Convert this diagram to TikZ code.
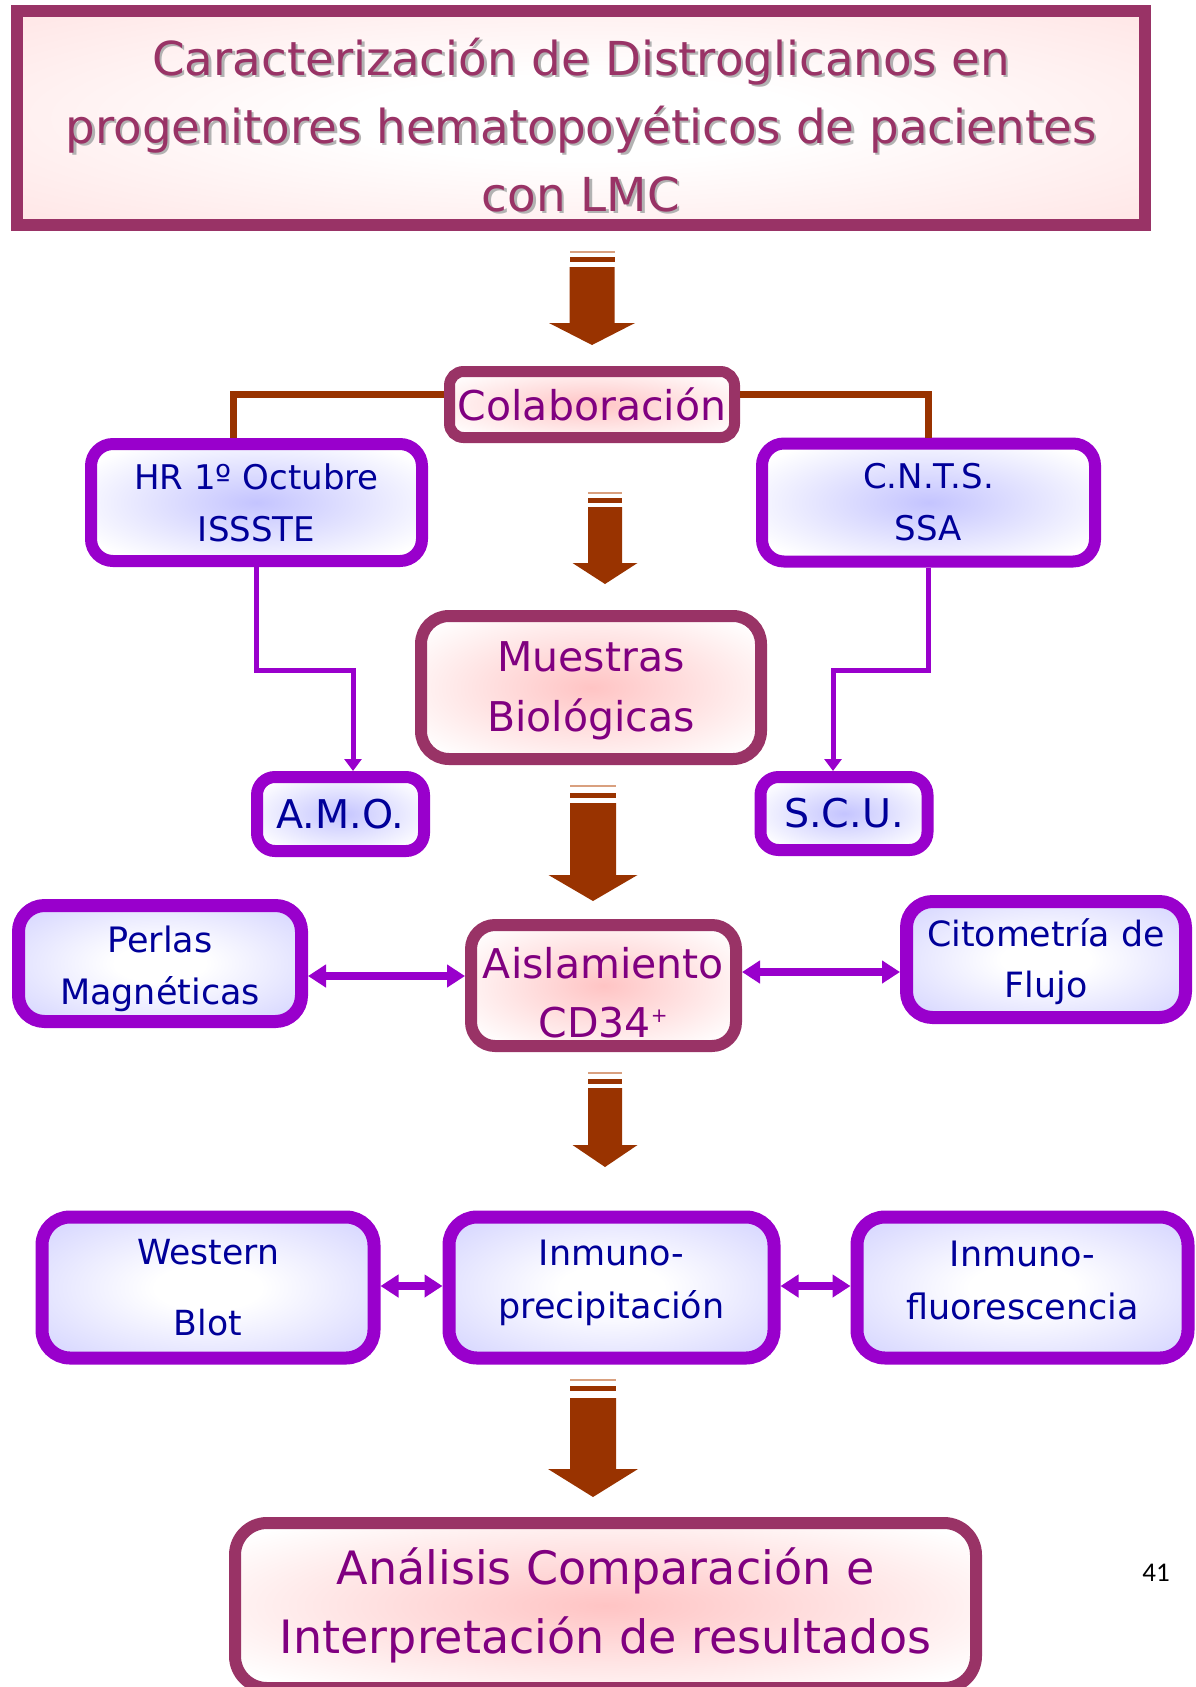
\documentclass[tikz,border=0pt]{standalone}
\usepackage{fontspec}
\setmainfont{DejaVu Sans}
\newfontfamily\carlitofont{Carlito}
\usetikzlibrary{arrows.meta,calc}
\definecolor{plum}{HTML}{993366}
\definecolor{vio}{HTML}{9900CC}
\definecolor{brn}{HTML}{993300}
\definecolor{brnlight}{HTML}{D9A07F}
\definecolor{txtpurple}{HTML}{800080}
\definecolor{txtnavy}{HTML}{000099}
\definecolor{pinkc}{HTML}{FFC4C4}
\definecolor{titlepink}{HTML}{FFDCDC}
\definecolor{bluec}{HTML}{C4C4FF}
\definecolor{bluee}{HTML}{C8C8FF}
\pgfdeclareradialshading{pinkglow}{\pgfpoint{0bp}{0bp}}{color(0bp)=(pinkc); color(32bp)=(white); color(50bp)=(white)}
\pgfdeclareradialshading{blueglow}{\pgfpoint{0bp}{0bp}}{color(0bp)=(bluec); color(30bp)=(white); color(50bp)=(white)}
\pgfdeclareradialshading{blueedge}{\pgfpoint{0bp}{0bp}}{color(0bp)=(white); color(8bp)=(white); color(42bp)=(bluee); color(50bp)=(bluee)}
\pgfdeclareradialshading{titleedge}{\pgfpoint{0bp}{0bp}}{color(0bp)=(white); color(10bp)=(white); color(45bp)=(titlepink); color(50bp)=(titlepink)}
\newcommand\blockarrow[8]{%
  \fill[brnlight] (#1-#7,#2-1) rectangle (#1+#7,#2+1);
  \fill[brn] (#1-#7,#3-2.5) rectangle (#1+#7,#3+2.5);
  \fill[brn] (#1-#7,#4) -- (#1+#7,#4) -- (#1+#7,#5) -- (#1+#8,#5) -- (#1,#6) -- (#1-#8,#5) -- (#1-#7,#5) -- cycle;}
\tikzset{
  plumbox/.style={draw=plum, line width=6pt, shading=pinkglow, text=txtpurple, rounded corners=12pt, inner sep=0pt, align=center},
  viobox/.style={draw=vio, line width=6pt, shading=blueglow, text=txtnavy, rounded corners=11pt, inner sep=0pt, align=center},
  vioedge/.style={viobox, line width=6.5pt, shading=blueedge, rounded corners=13pt},
  titlefont/.style={font=\fontsize{23.4}{34}\selectfont, align=center},
  fmid/.style={font=\fontsize{20.5}{30}\selectfont},
  brownline/.style={draw=brn, line width=3.5pt},
  pline/.style={draw=vio, line width=2.5pt, -{Triangle[length=6pt,width=8.5pt]}},
  darrow/.style={draw=vio, line width=4pt, {Triangle[length=9pt,width=11pt]}-{Triangle[length=9pt,width=11pt]}}
}
\begin{document}
\begin{tikzpicture}[x=0.5pt,y=-0.5pt]
\useasboundingbox (0,0) rectangle (1195,1687);
% title
\node[draw=plum, line width=6pt, shading=titleedge, minimum width=564pt, minimum height=107pt, inner sep=0pt] (title) at (581,118) {};
\node[titlefont, text=black!30] (titleshadow) at (583.5,127.5) {Caracterización de Distroglicanos en\\progenitores hematopoyéticos de pacientes\\con LMC};
\node[titlefont, text=plum] (titletext) at (581,125) {Caracterización de Distroglicanos en\\progenitores hematopoyéticos de pacientes\\con LMC};
% boxes
\node[plumbox, fmid, line width=5.5pt, rounded corners=7pt, minimum width=142.5pt, minimum height=33pt] (colab) at (592,404.5) {Colaboración};
\node[viobox, minimum width=165.5pt, minimum height=58.5pt, font=\fontsize{17}{26}\selectfont] (hr) at (256.5,502.5) {HR 1º Octubre\\ISSSTE};
\node[viobox, minimum width=166.5pt, minimum height=59pt, font=\fontsize{17}{26}\selectfont] (cnts) at (928.5,502.5) {C.N.T.S.\\SSA};
\node[plumbox, font=\fontsize{20.5}{30}\selectfont, rounded corners=14pt, minimum width=170pt, minimum height=71.5pt] (muestras) at (591,687.5) {\rule{0pt}{18.5pt}Muestras\\Biológicas};
\node[viobox, font=\fontsize{19.8}{24}\selectfont, rounded corners=9pt, minimum width=83.5pt, minimum height=37pt] (amo) at (340.5,814) {A.M.O.};
\node[viobox, font=\fontsize{19.8}{24}\selectfont, rounded corners=9pt, minimum width=83.5pt, minimum height=36.5pt] (scu) at (844,813.5) {S.C.U.};
\node[vioedge, font=\fontsize{17.5}{26}\selectfont, minimum width=141.5pt, minimum height=58pt] (perlas) at (160,963.5) {\rule{0pt}{18.3pt}Perlas\\Magnéticas};
\node[plumbox, font=\fontsize{20.5}{29.5}\selectfont, minimum width=132.5pt, minimum height=60.5pt] (aisl) at (603.5,985.5) {\rule{0pt}{23pt}Aislamiento\\CD34\textsuperscript{\fontsize{10}{10}\selectfont +}};
\node[vioedge, font=\fontsize{17.4}{25.5}\selectfont, minimum width=139.5pt, minimum height=58pt] (cito) at (1046,959.5) {\rule{0pt}{16.5pt}Citometría de\\Flujo};
\node[vioedge, font=\fontsize{17.3}{35.5}\selectfont, rounded corners=14pt, minimum width=166pt, minimum height=70.5pt] (western) at (208,1287.5) {Western\\Blot};
\node[vioedge, font=\fontsize{17.5}{26.5}\selectfont, rounded corners=14pt, minimum width=162.5pt, minimum height=70.5pt] (precip) at (611.5,1287.5) {Inmuno-\\precipitación\rule[-8pt]{0pt}{8pt}};
\node[vioedge, font=\fontsize{17.5}{26.5}\selectfont, rounded corners=14pt, minimum width=165.5pt, minimum height=70.5pt] (fluor) at (1022.5,1287.5) {Inmuno-\\fluorescencia\rule[-7.5pt]{0pt}{7.5pt}};
\node[plumbox, font=\fontsize{23}{34.5}\selectfont, rounded corners=16pt, minimum width=370.5pt, minimum height=82.5pt] (final) at (605.5,1605.5) {Análisis Comparación e\\Interpretación de resultados};
\node[font=\carlitofont\fontsize{13.5}{16}\selectfont, inner sep=0pt] (pagenum) at (1156,1573) {41};
% block arrows
\blockarrow{592}{252}{259}{267}{323}{345}{22.5}{43}
\blockarrow{605}{493}{500}{507}{563}{584}{17}{32.5}
\blockarrow{593}{786}{795}{803}{875}{901}{23}{44.5}
\blockarrow{605}{1073}{1081}{1088}{1145}{1167}{17}{32.5}
\blockarrow{593}{1380}{1388}{1398}{1469}{1497}{23}{45}
% connectors
\draw[brownline] ($(colab.west)+(0,-10.5)$) -| ($(hr.north)+(-23.5,0)$);
\draw[brownline] ($(colab.east)+(0,-10.5)$) -| (cnts.north);
\draw[pline] (hr.south) -- (hr.south |- 0,670) -| ($(amo.north)+(12.5,0)$);
\draw[pline] (cnts.south) -- (cnts.south |- 0,670) -| ($(scu.north)+(-11,0)$);
\draw[darrow] (perlas.east |- 0,976) -- (aisl.west |- 0,976);
\draw[darrow] (aisl.east |- 0,972) -- (cito.west |- 0,972);
\draw[darrow] (western.east |- 0,1286) -- (precip.west |- 0,1286);
\draw[darrow] (precip.east |- 0,1286) -- (fluor.west |- 0,1286);
\end{tikzpicture}
\end{document}
